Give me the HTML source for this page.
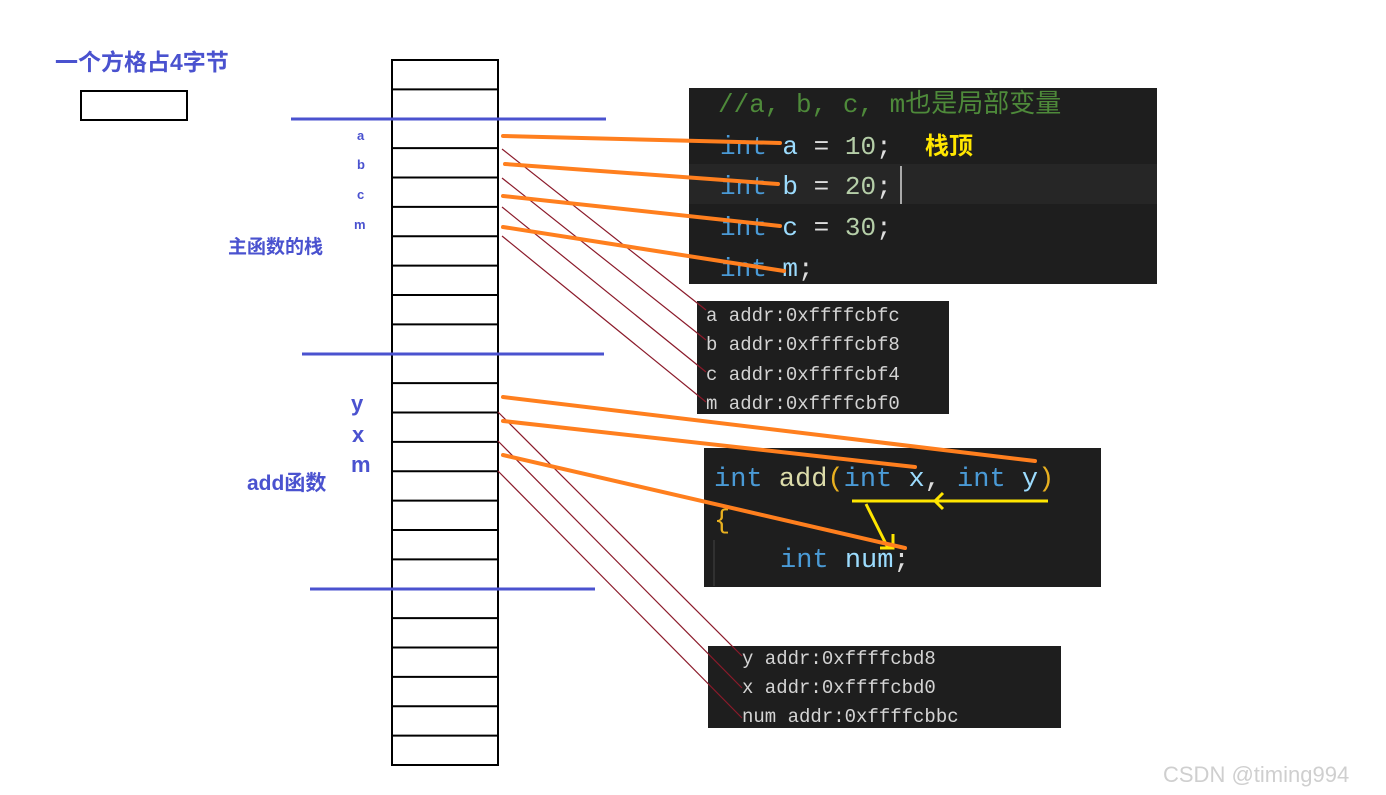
<!DOCTYPE html>
<html><head><meta charset="utf-8"><style>
html,body{margin:0;padding:0;background:#fff;}
svg{display:block;}
.mono{font-family:"Liberation Mono","Noto Sans CJK SC",monospace;}
.cj{font-family:"Liberation Sans","Noto Sans CJK SC",sans-serif;font-weight:bold;fill:#4a52cf;}
</style></head><body>
<svg width="1386" height="795" viewBox="0 0 1386 795" xmlns="http://www.w3.org/2000/svg">
<rect width="1386" height="795" fill="#fff"/>
<!-- legend -->
<text x="55" y="70" class="cj" font-size="23">一个方格占4字节</text>
<rect x="81" y="91" width="106" height="29" fill="none" stroke="#000" stroke-width="2"/>
<!-- stack -->
<g stroke="#000" stroke-width="2" fill="none">
<rect x="392" y="60" width="106" height="705"/>
<path d="M392 89.4H498M392 118.8H498M392 148.1H498M392 177.5H498M392 206.9H498M392 236.3H498M392 265.6H498M392 295H498M392 324.4H498M392 353.8H498M392 383.1H498M392 412.5H498M392 441.9H498M392 471.3H498M392 500.6H498M392 530H498M392 559.4H498M392 588.8H498M392 618.1H498M392 647.5H498M392 676.9H498M392 706.3H498M392 735.6H498"/>
</g>
<!-- blue dividers -->
<g stroke="#4a52cf" stroke-width="3">
<line x1="291" y1="119" x2="606" y2="119"/>
<line x1="302" y1="354" x2="604" y2="354"/>
<line x1="310" y1="589" x2="595" y2="589"/>
</g>
<text x="357" y="140" class="cj" font-size="13">a</text>
<text x="357" y="169" class="cj" font-size="13">b</text>
<text x="357" y="199" class="cj" font-size="13">c</text>
<text x="354" y="229" class="cj" font-size="13">m</text>
<text x="228" y="253" class="cj" font-size="19">主函数的栈</text>
<text x="351" y="411" class="cj" font-size="22">y</text>
<text x="352" y="442" class="cj" font-size="22">x</text>
<text x="351" y="472" class="cj" font-size="22">m</text>
<text x="247" y="490" class="cj" font-size="21">add函数</text>
<!-- code box 1 -->
<rect x="689" y="88" width="468" height="196" fill="#1e1e1e"/>
<rect x="689" y="164" width="468" height="40" fill="#262626"/>
<g class="mono" font-size="26">
<text x="718" y="112" fill="#4e8a3a">//a, b, c, m<tspan font-family="Noto Sans CJK SC,sans-serif">也是局部变量</tspan></text>
<text x="720" y="154"><tspan fill="#4a9ad6">int</tspan> <tspan fill="#9cdcfe">a</tspan><tspan fill="#ddd"> = </tspan><tspan fill="#b5cea8">10</tspan><tspan fill="#ddd">;</tspan></text>
<text x="720" y="194"><tspan fill="#4a9ad6">int</tspan> <tspan fill="#9cdcfe">b</tspan><tspan fill="#ddd"> = </tspan><tspan fill="#b5cea8">20</tspan><tspan fill="#ddd">;</tspan></text>
<text x="720" y="235"><tspan fill="#4a9ad6">int</tspan> <tspan fill="#9cdcfe">c</tspan><tspan fill="#ddd"> = </tspan><tspan fill="#b5cea8">30</tspan><tspan fill="#ddd">;</tspan></text>
<text x="720" y="276"><tspan fill="#4a9ad6">int</tspan> <tspan fill="#9cdcfe">m</tspan><tspan fill="#ddd">;</tspan></text>
</g>
<line x1="901" y1="166" x2="901" y2="204" stroke="#aaa" stroke-width="2"/>
<text x="925" y="154" font-family="Noto Sans CJK SC,sans-serif" font-weight="bold" font-size="24" fill="#ffe600">栈顶</text>
<!-- addr box 1 -->
<rect x="697" y="301" width="252" height="113" fill="#1e1e1e"/>
<g class="mono" font-size="19" fill="#d4d4d4">
<text x="706" y="321">a addr:0xffffcbfc</text>
<text x="706" y="350">b addr:0xffffcbf8</text>
<text x="706" y="380">c addr:0xffffcbf4</text>
<text x="706" y="409">m addr:0xffffcbf0</text>
</g>
<!-- code box 2 -->
<rect x="704" y="448" width="397" height="139" fill="#1e1e1e"/>
<line x1="680" y1="540" x2="680" y2="540"/>
<line x1="714" y1="540" x2="714" y2="586" stroke="#444" stroke-width="1"/>
<g class="mono" font-size="27">
<text x="714" y="486"><tspan fill="#4a9ad6">int</tspan> <tspan fill="#dcdcaa">add</tspan><tspan fill="#e8b020">(</tspan><tspan fill="#4a9ad6">int</tspan> <tspan fill="#9cdcfe">x</tspan><tspan fill="#ddd">, </tspan><tspan fill="#4a9ad6">int</tspan> <tspan fill="#9cdcfe">y</tspan><tspan fill="#e8b020">)</tspan></text>
<text x="714" y="528" fill="#e8b020">{</text>
<text x="780" y="567"><tspan fill="#4a9ad6">int</tspan> <tspan fill="#9cdcfe">num</tspan><tspan fill="#ddd">;</tspan></text>
</g>
<g stroke="#ffe600" stroke-width="3" fill="none">
<line x1="852" y1="501" x2="1048" y2="501"/>
<path d="M943 493 L935 501 L943 509"/>
<line x1="866" y1="504" x2="888" y2="548"/>
<path d="M880 548 L893 548 L893 534"/>
</g>
<!-- addr box 2 -->
<rect x="708" y="646" width="353" height="82" fill="#1e1e1e"/>
<g class="mono" font-size="19" fill="#d4d4d4">
<text x="742" y="664">y addr:0xffffcbd8</text>
<text x="742" y="693">x addr:0xffffcbd0</text>
<text x="742" y="722">num addr:0xffffcbbc</text>
</g>
<!-- dark red lines -->
<g stroke="#8b1a2a" stroke-width="1.2">
<line x1="502" y1="149" x2="706" y2="310"/>
<line x1="502" y1="178" x2="706" y2="340"/>
<line x1="502" y1="207" x2="706" y2="372"/>
<line x1="502" y1="236" x2="706" y2="402"/>
<line x1="498" y1="412" x2="742" y2="656"/>
<line x1="498" y1="441" x2="742" y2="688"/>
<line x1="498" y1="471" x2="742" y2="718"/>
</g>
<!-- orange lines -->
<g stroke="#ff7f1e" stroke-width="4" stroke-linecap="round">
<line x1="503" y1="136" x2="780" y2="143"/>
<line x1="505" y1="164" x2="778" y2="184"/>
<line x1="503" y1="196" x2="780" y2="226"/>
<line x1="503" y1="227" x2="784" y2="271"/>
<line x1="503" y1="397" x2="1035" y2="461"/>
<line x1="503" y1="421" x2="915" y2="467"/>
<line x1="503" y1="455" x2="905" y2="548"/>
</g>
<text x="1163" y="782" font-family="Liberation Sans,sans-serif" font-size="22" fill="#cfcfcf">CSDN @timing994</text>
</svg>
</body></html>
